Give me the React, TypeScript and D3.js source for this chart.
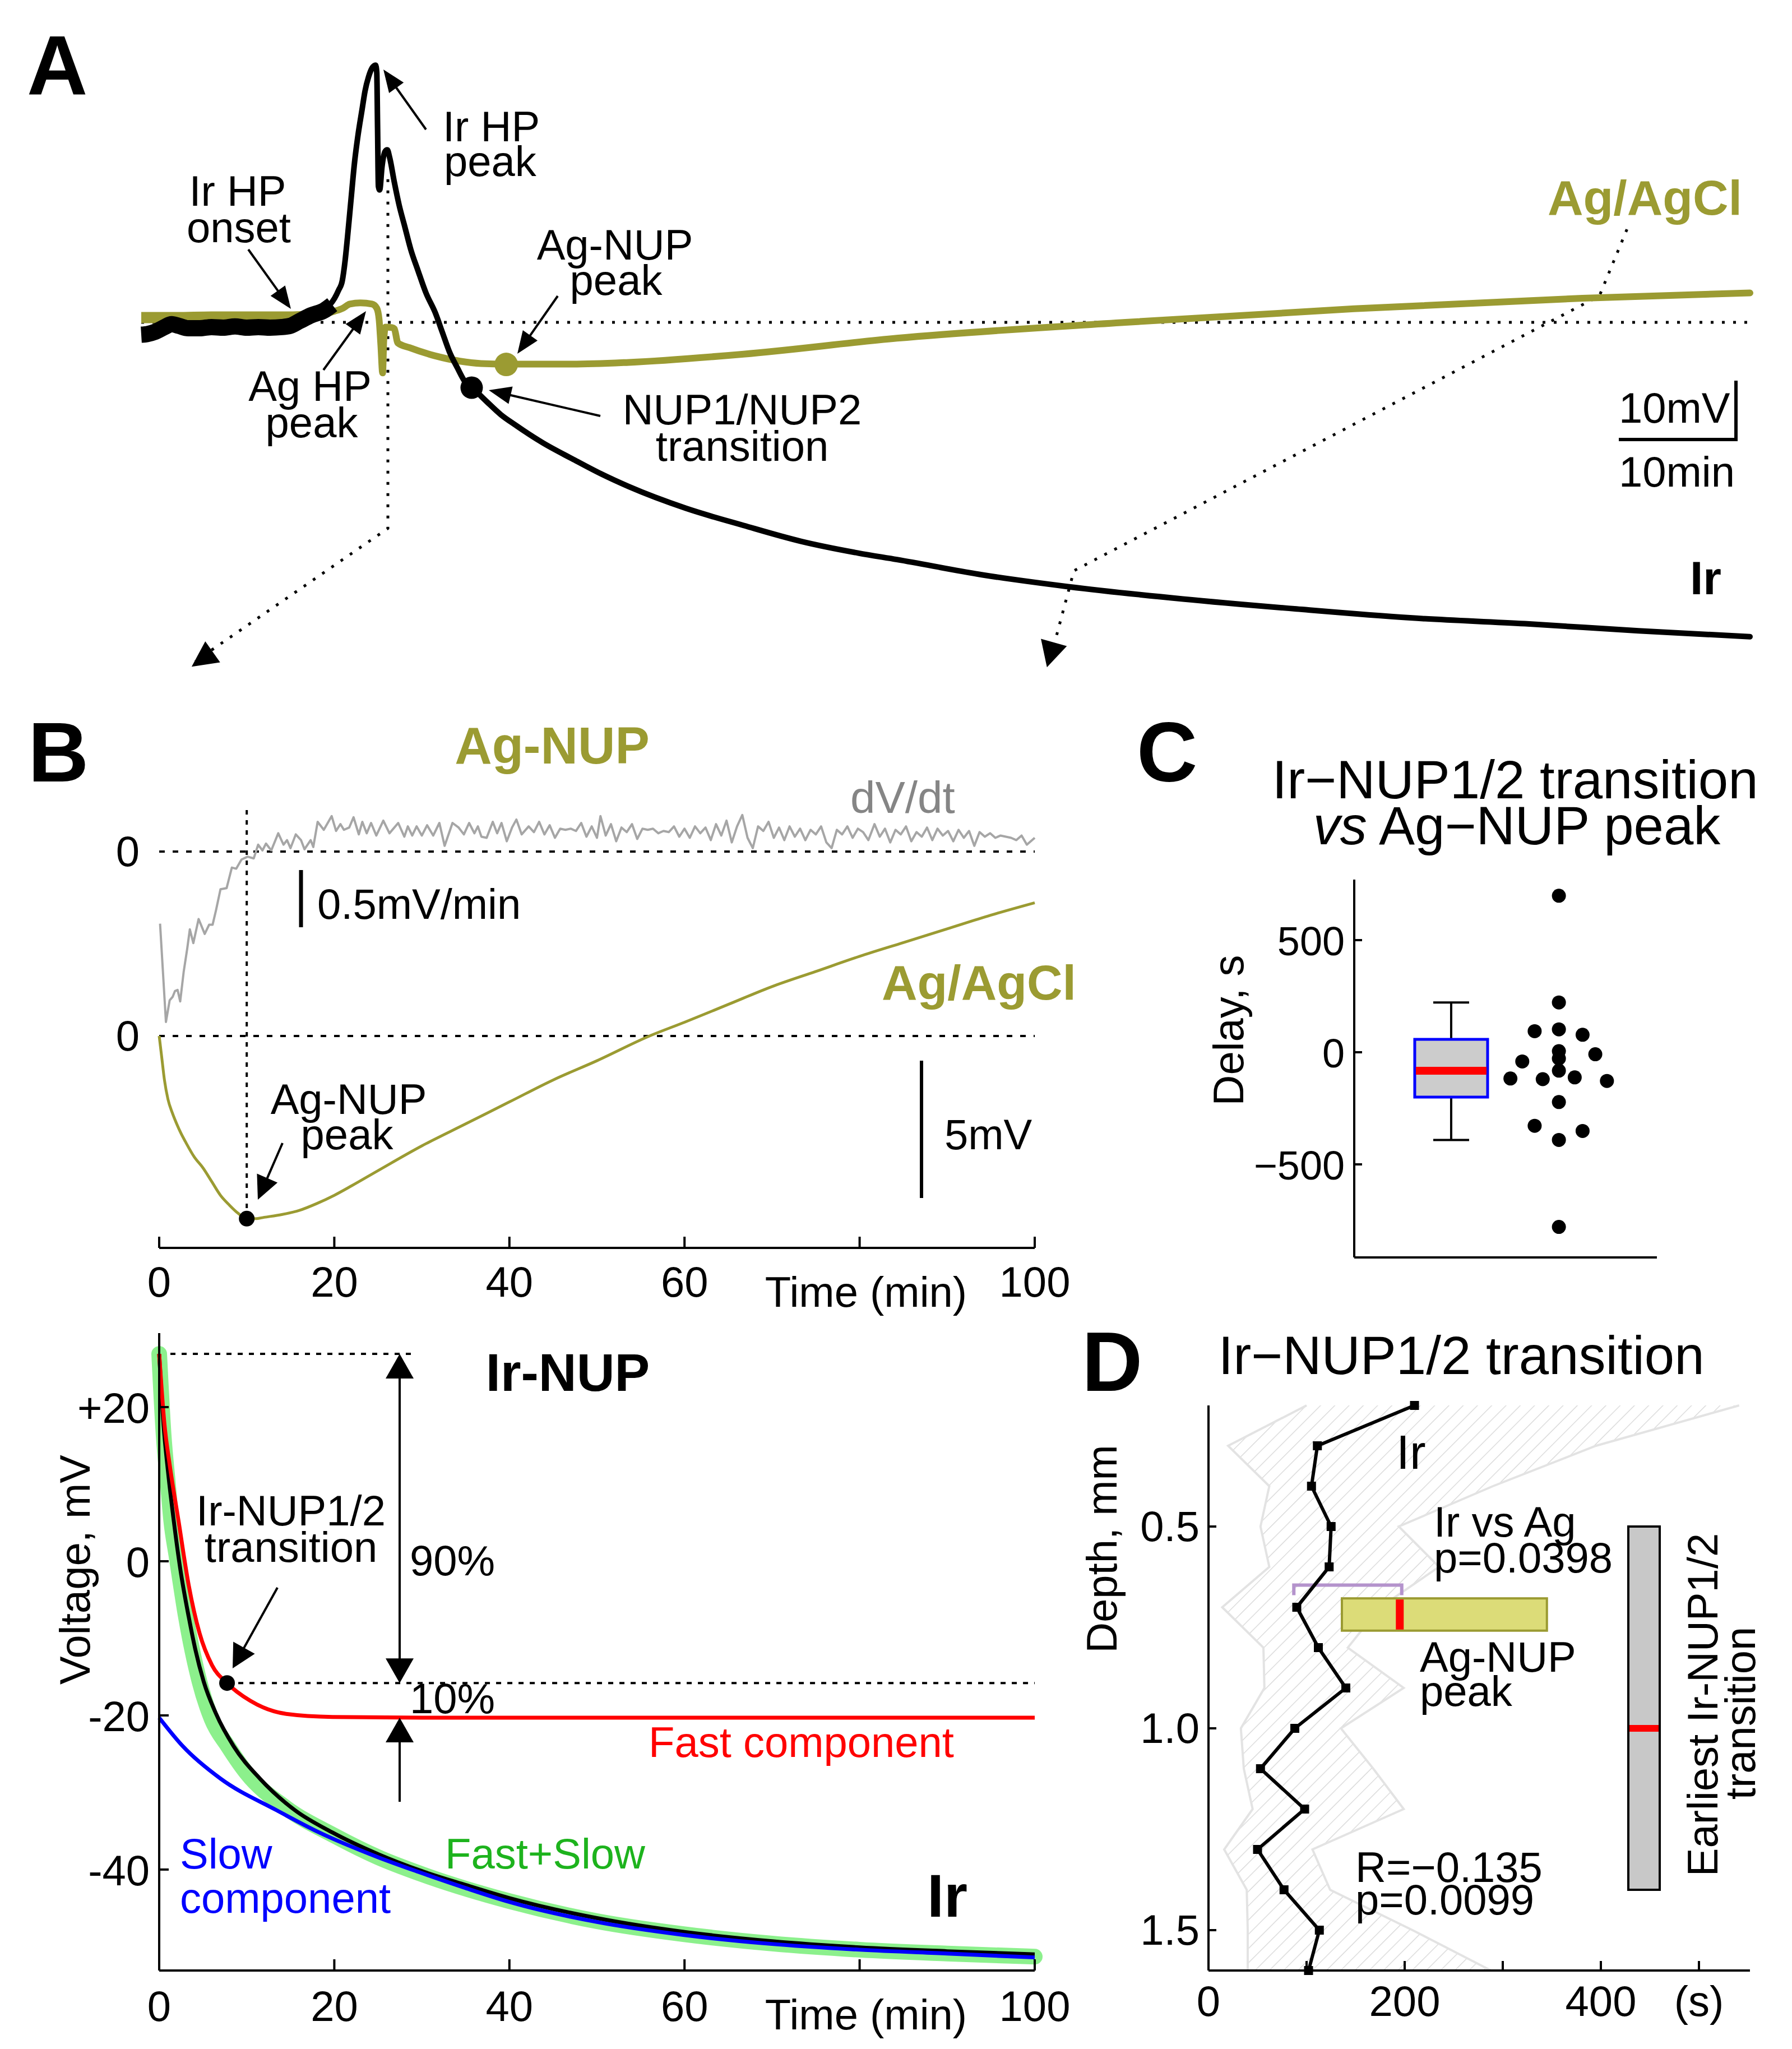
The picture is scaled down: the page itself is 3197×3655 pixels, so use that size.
import React from 'react';
import * as d3 from 'd3';

const W = 3197;
const H = 3655;
const FONT = '"Liberation Sans", Arial, Helvetica, sans-serif';
const OLIVE = '#9b9b32';
const FS = 76;

// ---------------- Panel A data (time, min ; voltage, mV) ----------------
const irNoisyA: [number, number][] = [
  [0, -2.1], [0.5, -2.0], [1.2, -1.6], [2.0, -0.8], [2.6, -0.3], [3.2, -0.6], [4.0, -1.0], [5, -1.0],
  [6, -0.8], [7, -0.9], [8, -0.7], [9, -0.9], [10, -0.8], [11, -0.9], [12, -0.8], [12.7, -0.6],
  [13.5, 0.2], [14.5, 1.2], [15.6, 2.0], [16.3, 3.0],
];
const irTraceA: [number, number][] = [
  [12.7, -0.6], [14.0, 0.6], [15.0, 1.5], [15.6, 2.2], [16.1, 3.0], [16.5, 4.1], [16.85, 5.5], [17.15, 7.0],
  [17.4, 10.5], [17.6, 14.4], [17.9, 20.8], [18.2, 27.1], [18.5, 31.8], [18.85, 36.2], [19.1, 39.3],
  [19.4, 41.7], [19.7, 43.2], [20.0, 43.7], [20.1, 42.5], [20.17, 33], [20.24, 23.1], [20.35, 22.5],
  [20.55, 26.5], [20.8, 29.0], [21.0, 29.3], [21.2, 28.0], [21.6, 23.8], [22.0, 20.0], [22.5, 16.2],
  [23.0, 12.4], [23.6, 8.9], [24.3, 5.0], [25.1, 1.6], [25.7, -1.7], [26.3, -5.0], [27.0, -7.8],
  [27.6, -10.0], [28.3, -11.2], [29.5, -13.5], [30.7, -15.7], [31.9, -17.4], [34.3, -20.5], [36.8, -23.2],
  [39.2, -25.7], [41.6, -27.9], [46.5, -31.6], [51.4, -34.5], [56.3, -37.2], [61.2, -39.2], [64.5, -40.3],
  [71.8, -42.9], [79.1, -44.9], [88.9, -47.0], [98.6, -48.7], [108.3, -50.2], [118.1, -51.2],
  [127.8, -52.4], [137.3, -53.4],
];
const agNoisyA: [number, number][] = [
  [0, 0.8], [3, 0.8], [6, 0.9], [9, 0.9], [12.7, 0.9], [14, 1.0],
];
const agTraceA: [number, number][] = [
  [12.7, 0.9], [15.6, 1.4], [16.5, 1.9], [17.2, 2.4], [17.8, 3.1], [18.7, 3.3], [19.7, 3.1], [20.1, 2.4],
  [20.3, 0.5], [20.45, -3.9], [20.6, -8.6], [20.7, -3.0], [20.85, -0.8], [21.4, -0.9], [21.6, -1.1],
  [21.9, -3.5], [22.9, -4.3], [25.1, -5.7], [27.2, -6.6], [29.0, -7.0], [31.2, -7.1], [36.8, -7.1],
  [41.6, -6.8], [51.4, -5.4], [64.5, -2.7], [84, 0], [103.5, 2.3], [123, 4.1], [137.3, 5.0],
];
const irTransitionA: [number, number] = [28.2, -11.1];
const agPeakA: [number, number] = [31.15, -7.15];

// ---------------- Panel B data ----------------
const dvdtB: [number, number][] = [
  [0.1, -0.63], [0.77, -1.49], [1.2, -1.3], [1.54, -1.27], [1.8, -1.22], [2.1, -1.21], [2.4, -1.31],
  [2.8, -1.05], [3.2, -0.85], [3.5, -0.68], [3.9, -0.8], [4.5, -0.59], [5.2, -0.72], [5.7, -0.64],
  [6.1, -0.64], [6.5, -0.51], [7.0, -0.33], [7.7, -0.32], [8.3, -0.14], [8.8, -0.15], [9.4, -0.07],
  [10.1, -0.045], [10.8, -0.06], [11.3, 0.06], [11.8, 0.01], [12.2, 0.07], [12.8, 0.01], [13.6, 0.16],
  [14.2, 0.06], [14.6, 0.1], [15.0, 0.03], [15.6, 0.15], [16.2, 0.1], [16.6, 0.02], [17.3, 0.1],
  [17.6, 0.04], [18.1, 0.26], [18.8, 0.19], [19.7, 0.31], [20.2, 0.18], [20.7, 0.24], [21.1, 0.19],
  [21.7, 0.21], [22.2, 0.3], [22.8, 0.15], [23.2, 0.26], [23.7, 0.16], [24.2, 0.25], [24.8, 0.14],
  [25.6, 0.27], [26.3, 0.16], [27.3, 0.25], [28.0, 0.13], [28.4, 0.22], [28.9, 0.14], [29.4, 0.22],
  [30.0, 0.14], [30.6, 0.23], [31.3, 0.14], [32.0, 0.25], [32.6, 0.05], [33.5, 0.25], [34.2, 0.21],
  [34.8, 0.15], [35.4, 0.25], [36.0, 0.16], [36.4, 0.22], [36.8, 0.13], [37.4, 0.12], [38.1, 0.26],
  [38.6, 0.16], [39.1, 0.25], [39.7, 0.09], [40.3, 0.21], [40.8, 0.28], [41.4, 0.15], [42.2, 0.22],
  [42.8, 0.17], [43.4, 0.26], [44.0, 0.15], [44.6, 0.23], [45.2, 0.12], [45.8, 0.2], [46.4, 0.19],
  [47.0, 0.2], [47.6, 0.18], [48.2, 0.25], [48.8, 0.13], [49.4, 0.22], [50.0, 0.12], [50.4, 0.31],
  [51.0, 0.14], [51.6, 0.24], [52.2, 0.09], [52.8, 0.21], [53.4, 0.17], [54.0, 0.24], [54.6, 0.11],
  [55.2, 0.2], [55.8, 0.19], [56.4, 0.2], [57.0, 0.16], [57.6, 0.18], [58.2, 0.17], [58.8, 0.22],
  [59.4, 0.13], [60.0, 0.2], [60.6, 0.12], [61.2, 0.22], [61.8, 0.16], [62.4, 0.21], [63.0, 0.1],
  [63.6, 0.24], [64.2, 0.14], [64.8, 0.27], [65.4, 0.08], [66.0, 0.22], [66.6, 0.32], [67.2, 0.12],
  [67.8, 0.03], [68.4, 0.22], [69.0, 0.18], [69.6, 0.26], [70.2, 0.12], [70.8, 0.21], [71.4, 0.1],
  [72.0, 0.22], [72.6, 0.13], [73.2, 0.2], [73.8, 0.1], [74.4, 0.19], [75.0, 0.15], [75.6, 0.22],
  [76.2, 0.08], [76.8, 0.03], [77.4, 0.19], [78.0, 0.15], [78.6, 0.22], [79.2, 0.12], [79.8, 0.2],
  [80.4, 0.17], [81.0, 0.1], [81.7, 0.24], [82.3, 0.13], [82.9, 0.2], [83.5, 0.08], [84.1, 0.19],
  [84.7, 0.15], [85.3, 0.22], [85.9, 0.09], [86.5, 0.17], [87.1, 0.13], [87.7, 0.21], [88.3, 0.1],
  [88.9, 0.2], [89.5, 0.14], [90.1, 0.18], [90.7, 0.09], [91.3, 0.19], [91.9, 0.12], [92.5, 0.18],
  [93.1, 0.05], [93.7, 0.17], [94.3, 0.13], [94.9, 0.16], [95.5, 0.12], [96.1, 0.14], [96.7, 0.13],
  [97.3, 0.12], [97.9, 0.1], [98.5, 0.14], [99.1, 0.06], [100, 0.12],
];
const agB: [number, number][] = [
  [0, 0], [0.3, -0.8], [0.6, -1.6], [1.0, -2.3], [1.5, -2.8], [2.0, -3.2], [2.5, -3.55], [3.0, -3.85],
  [4.0, -4.4], [5.0, -4.8], [6.0, -5.3], [7.0, -5.8], [8.0, -6.15], [9.0, -6.45], [10.0, -6.65],
  [11.0, -6.65], [12.0, -6.6], [14.0, -6.5], [16.0, -6.35], [18.0, -6.1], [20.0, -5.8], [22.0, -5.45],
  [25.0, -4.9], [30.0, -4.0], [35.0, -3.2], [40.0, -2.4], [45.0, -1.6], [50.0, -0.9], [56.0, 0.0],
  [60.0, 0.5], [65.0, 1.15], [70.0, 1.8], [75.0, 2.35], [80.0, 2.9], [85.0, 3.4], [90.0, 3.9],
  [95.0, 4.4], [100.0, 4.85],
];
const agPeakB: [number, number] = [10, -6.65];

const irB: [number, number][] = [
  [0, 26.9], [0.49, 17.8], [1.02, 11.5], [1.66, 5.3], [2.41, -1.0], [3.37, -7.2], [4.12, -11.4],
  [5.08, -15.6], [6.5, -19.8], [8.5, -24.0], [11.5, -28.2], [15.5, -32.3], [19.8, -35.2], [25, -38.0],
  [30, -40.2], [35, -42.0], [40, -43.7], [50, -46.3], [60, -48.1], [70, -49.3], [80, -50.1], [90, -50.6],
  [100, -51.0],
];
const fastB: [number, number][] = [
  [0, 26.9], [0.6, 17.8], [1.2, 12.5], [2.2, 5.3], [3.37, -3.1], [4.6, -9.3], [6.04, -13.5], [7.75, -15.8],
  [10.4, -18.1], [14.5, -19.8], [19.8, -20.2], [30, -20.3], [60, -20.3], [100, -20.3],
];
const slowB: [number, number][] = [
  [0, -20.3], [2.7, -24], [7, -28.2], [13.4, -32.3], [18.3, -35.2], [25, -38.4], [29.6, -40.3], [35, -42.4],
  [40, -44.2], [50, -46.8], [60, -48.5], [69.4, -49.6], [80, -50.4], [90, -50.9], [100, -51.4],
];
const fastSlowB: [number, number][] = [
  [0, 26.9], [0.5, 16.5], [1.0, 10], [1.37, 5.3], [2, 0.5], [3.05, -7.2], [4.6, -15.6], [6, -20.5],
  [7.85, -24], [10, -27.5], [14.5, -32.0], [20, -35.6], [25, -38.4], [30, -40.6], [40, -44.1], [50, -46.7],
  [60, -48.4], [70, -49.6], [80, -50.4], [90, -50.9], [100, -51.3],
];
const irTransitionB: [number, number] = [7.75, -15.8];
const irTopLevelB = 26.9;
const irFastFloorB = -20.3;

// ---------------- Panel C data (delay, s) ----------------
const delayValues = [698, 222, 94, 102, 78, 5, -28, -9, -41, -82, -117, -120, -112, -128, -222, -328, -351, -391, -779];
const delayJitter = [0, 0, -0.225, 0, 0.22, 0, 0, 0.338, -0.34, 0, -0.45, -0.15, 0.147, 0.446, 0, -0.225, 0.22, 0, 0];
const boxQ1 = -200;
const boxMedian = -82.5;
const boxQ3 = 57.5;
const whiskerLow = -391;
const whiskerHigh = 222;

// ---------------- Panel D data ----------------
const depthsD = [0.2, 0.3, 0.4, 0.5, 0.6, 0.7, 0.8, 0.9, 1.0, 1.1, 1.2, 1.3, 1.4, 1.5, 1.6];
const irTransD = [210, 111, 105, 125, 123, 90, 112, 140, 88, 53, 98, 50, 77, 113, 102];
const bandLowD = [100, 20, 62, 53, 62, 14, 56, 57, 33, 36, 45, 16, 39, 40, 40];
const bandHighD = [541, 395, 290, 194, 235, 175, 142, 199, 135, 168, 199, 106, 124, 208, 288];
const agNupD = { lo: 136, median: 195, hi: 345, depthTop: 0.678, depthBottom: 0.758 };
const bracketD = { from: 87, to: 197, depth: 0.645, tickTo: 0.67 };
const earliestD = { lo: 428, hi: 460, top: 0.5, bottom: 1.4, median: 1.0 };

// ---------------- Scales ----------------
const xA = d3.scaleLinear().domain([0, 137.3]).range([252, 3122]);
const yA = d3.scaleLinear().domain([0, 10]).range([575, 470]);

const xB = d3.scaleLinear().domain([0, 100]).range([284, 1846]);
const yDv = d3.scaleLinear().domain([0, 0.5]).range([1519, 1417]);
const yAg = d3.scaleLinear().domain([0, 5]).range([1848, 1603]);
const yIr = d3.scaleLinear().domain([-53.1, 29.6]).range([3515, 2378]);

const xC = d3.scaleLinear().domain([0.1, 2.91]).range([2416, 2956]);
const yC = d3.scaleLinear().domain([-915, 770]).range([2243, 1569]);

const xD = d3.scaleLinear().domain([0, 552]).range([2156, 3122]);
const yD = d3.scaleLinear().domain([0.2, 1.6]).range([2507, 3515]);

const lineA = d3.line<[number, number]>().x(d => xA(d[0])).y(d => yA(d[1])).curve(d3.curveMonotoneX);
const lineDv = d3.line<[number, number]>().x(d => xB(d[0])).y(d => yDv(d[1]));
const lineAg = d3.line<[number, number]>().x(d => xB(d[0])).y(d => yAg(d[1])).curve(d3.curveMonotoneX);
const lineIr = d3.line<[number, number]>().x(d => xB(d[0])).y(d => yIr(d[1])).curve(d3.curveMonotoneX);

function Arrow({ x1, y1, x2, y2, len = 40, wid = 32, sw = 4 }:
  { x1: number; y1: number; x2: number; y2: number; len?: number; wid?: number; sw?: number }) {
  const dx = x2 - x1, dy = y2 - y1;
  const d = Math.hypot(dx, dy);
  const ux = dx / d, uy = dy / d;
  const bx = x2 - ux * len, by = y2 - uy * len;
  const px = -uy, py = ux;
  return (
    <g>
      <line x1={x1} y1={y1} x2={bx + ux * 2} y2={by + uy * 2} stroke="#000" strokeWidth={sw} />
      <polygon points={`${x2},${y2} ${bx + (px * wid) / 2},${by + (py * wid) / 2} ${bx - (px * wid) / 2},${by - (py * wid) / 2}`} fill="#000" />
    </g>
  );
}

function Head({ fx, fy, tx, ty, len = 46, wid = 48 }:
  { fx: number; fy: number; tx: number; ty: number; len?: number; wid?: number }) {
  const dx = tx - fx, dy = ty - fy;
  const d = Math.hypot(dx, dy);
  const ux = dx / d, uy = dy / d;
  const bx = tx - ux * len, by = ty - uy * len;
  const px = -uy, py = ux;
  return <polygon points={`${tx},${ty} ${bx + (px * wid) / 2},${by + (py * wid) / 2} ${bx - (px * wid) / 2},${by - (py * wid) / 2}`} fill="#000" />;
}

function PanelA() {
  const leftDots: [number, number][] = [[21.05, 24.3], [21.05, -35.0], [4.6, -57.6]];
  const rightDots: [number, number][] = [[126.8, 15.8], [124.45, 4.5], [79.6, -42.2], [77.5, -57.8]];
  const pth = (pts: [number, number][]) => pts.map((p, i) => `${i ? 'L' : 'M'}${xA(p[0])},${yA(p[1])}`).join('');
  const sbX = 2888, sbY = 784;
  return (
    <g>
      <text x={48} y={168} fontSize={150} fontWeight="bold">A</text>
      <line x1={xA(0)} x2={xA(137.3)} y1={yA(0)} y2={yA(0)} stroke="#000" strokeWidth={5} strokeDasharray="5 15" />
      <path d={pth(leftDots)} fill="none" stroke="#000" strokeWidth={5} strokeDasharray="5 15" />
      <Head fx={xA(21.05)} fy={yA(-35)} tx={xA(4.3)} ty={yA(-58.5)} len={46} wid={46} />
      <path d={pth(rightDots)} fill="none" stroke="#000" strokeWidth={5} strokeDasharray="5 15" />
      <Head fx={xA(79.6)} fy={yA(-42.2)} tx={xA(77.3)} ty={yA(-58.6)} len={46} wid={48} />
      <path d={lineA(agNoisyA) || ''} fill="none" stroke={OLIVE} strokeWidth={20} strokeLinejoin="round" />
      <path d={lineA(agTraceA) || ''} fill="none" stroke={OLIVE} strokeWidth={12} strokeLinejoin="round" strokeLinecap="round" />
      <path d={lineA(irNoisyA) || ''} fill="none" stroke="#000" strokeWidth={29} strokeLinejoin="round" />
      <path d={lineA(irTraceA) || ''} fill="none" stroke="#000" strokeWidth={10} strokeLinejoin="round" strokeLinecap="round" />
      <circle cx={xA(agPeakA[0])} cy={yA(agPeakA[1])} r={21} fill={OLIVE} />
      <circle cx={xA(irTransitionA[0])} cy={yA(irTransitionA[1])} r={20} fill="#000" />
      <text x={790} y={252} fontSize={FS}>Ir HP</text>
      <text x={792} y={314} fontSize={FS}>peak</text>
      <Arrow x1={760} y1={231} x2={684} y2={124} />
      <text x={424} y={367} fontSize={FS} textAnchor="middle">Ir HP</text>
      <text x={426} y={432} fontSize={FS} textAnchor="middle">onset</text>
      <Arrow x1={443} y1={445} x2={519} y2={551} />
      <text x={553} y={715} fontSize={FS} textAnchor="middle">Ag HP</text>
      <text x={556} y={780} fontSize={FS} textAnchor="middle">peak</text>
      <Arrow x1={577} y1={660} x2={653} y2={555} />
      <text x={1097} y={463} fontSize={FS} textAnchor="middle">Ag-NUP</text>
      <text x={1099} y={526} fontSize={FS} textAnchor="middle">peak</text>
      <Arrow x1={995} y1={528} x2={923} y2={631} />
      <text x={1324} y={757} fontSize={FS} textAnchor="middle">NUP1/NUP2</text>
      <text x={1324} y={822} fontSize={FS} textAnchor="middle">transition</text>
      <Arrow x1={1071} y1={742} x2={872} y2={696} />
      <text x={2761} y={383} fontSize={88} fontWeight="bold" fill={OLIVE}>Ag/AgCl</text>
      <text x={3015} y={1060} fontSize={84} fontWeight="bold">Ir</text>
      <line x1={sbX} x2={sbX + (xA(10) - xA(0))} y1={sbY} y2={sbY} stroke="#000" strokeWidth={6} />
      <line x1={sbX + (xA(10) - xA(0))} x2={sbX + (xA(10) - xA(0))} y1={sbY + 3} y2={sbY - (yA(0) - yA(10))} stroke="#000" strokeWidth={6} />
      <text x={2888} y={754} fontSize={FS}>10mV</text>
      <text x={2888} y={868} fontSize={FS}>10min</text>
    </g>
  );
}

function PanelBTop() {
  const axisY = 2226;
  const ticks = [0, 20, 40, 60, 80, 100];
  return (
    <g>
      <text x={50} y={1394} fontSize={150} fontWeight="bold">B</text>
      <text x={985} y={1362} fontSize={92} fontWeight="bold" fill={OLIVE} textAnchor="middle">Ag-NUP</text>
      <line x1={xB(0)} x2={xB(100)} y1={yDv(0)} y2={yDv(0)} stroke="#000" strokeWidth={4} strokeDasharray="10 14" />
      <line x1={xB(0)} x2={xB(100)} y1={yAg(0)} y2={yAg(0)} stroke="#000" strokeWidth={4} strokeDasharray="10 14" />
      <text x={228} y={yDv(0) + 26} fontSize={FS} textAnchor="middle">0</text>
      <text x={228} y={yAg(0) + 26} fontSize={FS} textAnchor="middle">0</text>
      <line x1={xB(agPeakB[0])} x2={xB(agPeakB[0])} y1={1445} y2={yAg(agPeakB[1])} stroke="#000" strokeWidth={4} strokeDasharray="8 10" />
      <path d={lineDv(dvdtB) || ''} fill="none" stroke="#a6a6a6" strokeWidth={4} strokeLinejoin="round" />
      <path d={lineAg(agB) || ''} fill="none" stroke={OLIVE} strokeWidth={5} strokeLinejoin="round" />
      <circle cx={xB(agPeakB[0])} cy={yAg(agPeakB[1])} r={14} fill="#000" />
      <text x={1517} y={1450} fontSize={80} fill="#858585">dV/dt</text>
      <line x1={537} x2={537} y1={1552} y2={1552 + (yDv(0) - yDv(0.5))} stroke="#000" strokeWidth={7} />
      <text x={566} y={1639} fontSize={FS}>0.5mV/min</text>
      <line x1={1644} x2={1644} y1={1892} y2={1892 + (yAg(0) - yAg(5))} stroke="#000" strokeWidth={6} />
      <text x={1685} y={2050} fontSize={FS}>5mV</text>
      <text x={1573} y={1783} fontSize={88} fontWeight="bold" fill={OLIVE}>Ag/AgCl</text>
      <text x={622} y={1987} fontSize={FS} textAnchor="middle">Ag-NUP</text>
      <text x={619} y={2050} fontSize={FS} textAnchor="middle">peak</text>
      <Arrow x1={504} y1={2039} x2={460} y2={2140} len={42} wid={40} />
      <line x1={xB(0)} x2={xB(100)} y1={axisY} y2={axisY} stroke="#000" strokeWidth={4} />
      {ticks.map(t => (
        <line key={t} x1={xB(t)} x2={xB(t)} y1={axisY} y2={axisY - 20} stroke="#000" strokeWidth={4} />
      ))}
      {ticks.filter(t => t !== 80).map(t => (
        <text key={t} x={xB(t)} y={2313} fontSize={FS} textAnchor="middle">{t}</text>
      ))}
      <text x={1545} y={2331} fontSize={FS} textAnchor="middle">Time (min)</text>
    </g>
  );
}

function PanelBBottom() {
  const ticksX = [0, 20, 40, 60, 80, 100];
  const ticksY = [20, 0, -20, -40];
  const lab = (v: number) => (v > 0 ? `+${v}` : `${v}`);
  const ax = 713;
  return (
    <g>
      <text x={1013} y={2481} fontSize={94} fontWeight="bold" textAnchor="middle">Ir-NUP</text>
      <line x1={xB(0)} x2={740} y1={yIr(irTopLevelB)} y2={yIr(irTopLevelB)} stroke="#000" strokeWidth={4} strokeDasharray="9 11" />
      <line x1={xB(irTransitionB[0])} x2={xB(100)} y1={yIr(irTransitionB[1])} y2={yIr(irTransitionB[1])} stroke="#000" strokeWidth={4} strokeDasharray="9 11" />
      <path d={lineIr(fastSlowB) || ''} fill="none" stroke="#8cf08c" strokeWidth={28} strokeLinejoin="round" strokeLinecap="round" />
      <path d={lineIr(irB) || ''} fill="none" stroke="#000" strokeWidth={7} strokeLinejoin="round" />
      <path d={lineIr(slowB) || ''} fill="none" stroke="#0000ff" strokeWidth={7} strokeLinejoin="round" />
      <path d={lineIr(fastB) || ''} fill="none" stroke="#ff0000" strokeWidth={7} strokeLinejoin="round" />
      <circle cx={xB(irTransitionB[0])} cy={yIr(irTransitionB[1])} r={14} fill="#000" />
      <line x1={ax} x2={ax} y1={yIr(irTopLevelB) + 20} y2={yIr(irTransitionB[1]) - 20} stroke="#000" strokeWidth={4} />
      <Head fx={ax} fy={2700} tx={ax} ty={yIr(irTopLevelB)} len={44} wid={50} />
      <Head fx={ax} fy={2700} tx={ax} ty={yIr(irTransitionB[1])} len={44} wid={50} />
      <line x1={ax} x2={ax} y1={yIr(irFastFloorB) + 20} y2={3214} stroke="#000" strokeWidth={4} />
      <Head fx={ax} fy={3200} tx={ax} ty={yIr(irFastFloorB)} len={44} wid={50} />
      <text x={731} y={2810} fontSize={FS}>90%</text>
      <text x={731} y={3056} fontSize={FS}>10%</text>
      <text x={519} y={2721} fontSize={FS} textAnchor="middle">Ir-NUP1/2</text>
      <text x={519} y={2786} fontSize={FS} textAnchor="middle">transition</text>
      <Arrow x1={495} y1={2832} x2={415} y2={2976} len={42} wid={44} />
      <text x={1157} y={3134} fontSize={FS} fill="#ff0000">Fast component</text>
      <text x={321} y={3333} fontSize={FS} fill="#0000ff">Slow</text>
      <text x={321} y={3412} fontSize={FS} fill="#0000ff">component</text>
      <text x={794} y={3333} fontSize={FS} fill="#1db31d">Fast+Slow</text>
      <text x={1654} y={3419} fontSize={108} fontWeight="bold">Ir</text>
      <line x1={xB(0)} x2={xB(0)} y1={yIr(29.6)} y2={yIr(-53.1)} stroke="#000" strokeWidth={4} />
      <line x1={xB(0)} x2={xB(100)} y1={yIr(-53.1)} y2={yIr(-53.1)} stroke="#000" strokeWidth={4} />
      {ticksY.map(v => (
        <g key={v}>
          <line x1={xB(0)} x2={xB(0) + 17} y1={yIr(v)} y2={yIr(v)} stroke="#000" strokeWidth={4} />
          <text x={267} y={yIr(v) + 28} fontSize={FS} textAnchor="end">{lab(v)}</text>
        </g>
      ))}
      {ticksX.map(t => (
        <line key={t} x1={xB(t)} x2={xB(t)} y1={yIr(-53.1)} y2={yIr(-53.1) - 20} stroke="#000" strokeWidth={4} />
      ))}
      {ticksX.filter(t => t !== 80).map(t => (
        <text key={t} x={xB(t)} y={3605} fontSize={FS} textAnchor="middle">{t}</text>
      ))}
      <text x={1545} y={3620} fontSize={FS} textAnchor="middle">Time (min)</text>
      <text transform="translate(160,2800) rotate(-90)" fontSize={FS} textAnchor="middle">Voltage, mV</text>
    </g>
  );
}

function PanelC() {
  const ticks = [-500, 0, 500];
  const bx = xC(1);
  const halfBox = 65, halfCap = 32;
  return (
    <g>
      <text x={2028} y={1394} fontSize={150} fontWeight="bold">C</text>
      <text x={2703} y={1424} fontSize={96} textAnchor="middle">Ir−NUP1/2 transition</text>
      <text x={2706} y={1506} fontSize={96} textAnchor="middle"><tspan fontStyle="italic">vs</tspan> Ag−NUP peak</text>
      <line x1={xC(0.1)} x2={xC(0.1)} y1={yC(770)} y2={yC(-915)} stroke="#000" strokeWidth={4} />
      <line x1={xC(0.1)} x2={xC(2.91)} y1={yC(-915)} y2={yC(-915)} stroke="#000" strokeWidth={4} />
      {ticks.map(v => (
        <g key={v}>
          <line x1={xC(0.1)} x2={xC(0.1) + 14} y1={yC(v)} y2={yC(v)} stroke="#000" strokeWidth={4} />
          <text x={2399} y={yC(v) + 27} fontSize={72} textAnchor="end">{v < 0 ? `−${-v}` : `${v}`}</text>
        </g>
      ))}
      <text transform="translate(2218,1838) rotate(-90)" fontSize={FS} textAnchor="middle">Delay, s</text>
      <line x1={bx} x2={bx} y1={yC(boxQ3)} y2={yC(whiskerHigh)} stroke="#000" strokeWidth={4} />
      <line x1={bx} x2={bx} y1={yC(boxQ1)} y2={yC(whiskerLow)} stroke="#000" strokeWidth={4} />
      <line x1={bx - halfCap} x2={bx + halfCap} y1={yC(whiskerHigh)} y2={yC(whiskerHigh)} stroke="#000" strokeWidth={4} />
      <line x1={bx - halfCap} x2={bx + halfCap} y1={yC(whiskerLow)} y2={yC(whiskerLow)} stroke="#000" strokeWidth={4} />
      <rect x={bx - halfBox} y={yC(boxQ3)} width={halfBox * 2} height={yC(boxQ1) - yC(boxQ3)} fill="#cccccc" stroke="#0000ff" strokeWidth={5} />
      <line x1={bx - halfBox + 2} x2={bx + halfBox - 2} y1={yC(boxMedian)} y2={yC(boxMedian)} stroke="#ff0000" strokeWidth={14} />
      {delayValues.map((v, i) => (
        <circle key={i} cx={xC(2 + delayJitter[i])} cy={yC(v)} r={12.5} fill="#000" />
      ))}
    </g>
  );
}

function PanelD() {
  const band = depthsD.map((d, i) => ({ d, lo: bandLowD[i], hi: bandHighD[i] }));
  const area = d3.area<{ d: number; lo: number; hi: number }>().y(p => yD(p.d)).x0(p => xD(p.lo)).x1(p => xD(p.hi));
  const edgeLo = d3.line<{ d: number; lo: number; hi: number }>().x(p => xD(p.lo)).y(p => yD(p.d));
  const edgeHi = d3.line<{ d: number; lo: number; hi: number }>().x(p => xD(p.hi)).y(p => yD(p.d));
  const irPts = depthsD.map((d, i) => [irTransD[i], d] as [number, number]);
  const irLine = d3.line<[number, number]>().x(p => xD(p[0])).y(p => yD(p[1]));
  const xt = [0, 100, 200, 300, 400, 500];
  const yt = [0.5, 1.0, 1.5];
  return (
    <g>
      <defs>
        <pattern id="hatch" width="18" height="18" patternUnits="userSpaceOnUse" patternTransform="rotate(45)">
          <line x1="0" y1="0" x2="0" y2="18" stroke="#d4d4d4" strokeWidth="2.5" />
        </pattern>
      </defs>
      <text x={1930} y={2481} fontSize={150} fontWeight="bold">D</text>
      <text x={2607} y={2451} fontSize={96} textAnchor="middle">Ir−NUP1/2 transition</text>
      <path d={area(band) || ''} fill="url(#hatch)" stroke="none" />
      <path d={edgeLo(band) || ''} fill="none" stroke="#e3e3e3" strokeWidth={4} />
      <path d={edgeHi(band) || ''} fill="none" stroke="#e3e3e3" strokeWidth={4} />
      <path d={`M${xD(bracketD.from)},${yD(bracketD.tickTo)}V${yD(bracketD.depth)}H${xD(bracketD.to)}V${yD(bracketD.tickTo)}`} fill="none" stroke="#b493cc" strokeWidth={6} />
      <rect x={xD(agNupD.lo)} y={yD(agNupD.depthTop)} width={xD(agNupD.hi) - xD(agNupD.lo)} height={yD(agNupD.depthBottom) - yD(agNupD.depthTop)} fill="#dcdc78" stroke={OLIVE} strokeWidth={4} />
      <line x1={xD(agNupD.median)} x2={xD(agNupD.median)} y1={yD(agNupD.depthTop) + 2} y2={yD(agNupD.depthBottom) - 2} stroke="#ff0000" strokeWidth={14} />
      <path d={irLine(irPts) || ''} fill="none" stroke="#000" strokeWidth={6} strokeLinejoin="round" />
      {irPts.map((p, i) => (
        <rect key={i} x={xD(p[0]) - 8} y={yD(p[1]) - 8} width={16} height={16} fill="#000" />
      ))}
      <rect x={xD(earliestD.lo)} y={yD(earliestD.top)} width={xD(earliestD.hi) - xD(earliestD.lo)} height={yD(earliestD.bottom) - yD(earliestD.top)} fill="#c8c8c8" stroke="#000" strokeWidth={4} />
      <line x1={xD(earliestD.lo) + 2} x2={xD(earliestD.hi) - 2} y1={yD(earliestD.median)} y2={yD(earliestD.median)} stroke="#ff0000" strokeWidth={12} />
      <text x={2491} y={2620} fontSize={86}>Ir</text>
      <text x={2558} y={2741} fontSize={FS}>Ir vs Ag</text>
      <text x={2558} y={2805} fontSize={FS}>p=0.0398</text>
      <text x={2533} y={2982} fontSize={FS}>Ag-NUP</text>
      <text x={2533} y={3043} fontSize={FS}>peak</text>
      <text x={2418} y={3357} fontSize={FS}>R=−0.135</text>
      <text x={2418} y={3415} fontSize={FS}>p=0.0099</text>
      <text transform="translate(3064,3041) rotate(-90)" fontSize={FS} textAnchor="middle">Earliest Ir-NUP1/2</text>
      <text transform="translate(3131,3056) rotate(-90)" fontSize={FS} textAnchor="middle">transition</text>
      <line x1={xD(0)} x2={xD(0)} y1={yD(0.2)} y2={yD(1.6)} stroke="#000" strokeWidth={4} />
      <line x1={xD(0)} x2={xD(552)} y1={yD(1.6)} y2={yD(1.6)} stroke="#000" strokeWidth={4} />
      {xt.map(t => (
        <line key={t} x1={xD(t)} x2={xD(t)} y1={yD(1.6)} y2={yD(1.6) - 17} stroke="#000" strokeWidth={4} />
      ))}
      {[0, 200, 400].map(t => (
        <text key={t} x={xD(t)} y={3596} fontSize={FS} textAnchor="middle">{t}</text>
      ))}
      <text x={xD(500)} y={3596} fontSize={FS} textAnchor="middle">(s)</text>
      {yt.map(v => (
        <g key={v}>
          <line x1={xD(0)} x2={xD(0) + 14} y1={yD(v)} y2={yD(v)} stroke="#000" strokeWidth={4} />
          <text x={2140} y={yD(v) + 26} fontSize={FS} textAnchor="end">{v.toFixed(1)}</text>
        </g>
      ))}
      <text transform="translate(1992,2763) rotate(-90)" fontSize={FS} textAnchor="middle">Depth, mm</text>
    </g>
  );
}

export default function App() {
  return (
    <svg
      width={W}
      height={H}
      viewBox={`0 0 ${W} ${H}`}
      style={{ position: 'absolute', left: 0, top: 0, display: 'block', background: '#fff' }}
      fontFamily={FONT}
    >
      <rect x={0} y={0} width={W} height={H} fill="#fff" />
      <PanelA />
      <PanelBTop />
      <PanelBBottom />
      <PanelC />
      <PanelD />
    </svg>
  );
}
